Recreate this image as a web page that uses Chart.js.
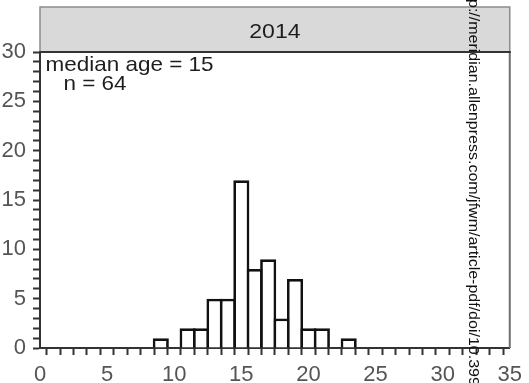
<!DOCTYPE html>
<html>
<head>
<meta charset="utf-8">
<script src="https://cdn.jsdelivr.net/npm/chart.js@4/dist/chart.umd.min.js"></script>
<style>
  html, body { margin: 0; padding: 0; background: #fff; }
  #wrap { width: 529px; height: 383px; }
</style>
</head>
<body>
<div id="wrap"><canvas id="chart" width="529" height="383"></canvas></div>
<script>
// Age-frequency histogram, 2014 sample
const ages   = [9, 11, 12, 13, 14, 15, 16, 17, 18, 19, 20, 21, 23];
const counts = [1,  2,  2,  5,  5, 17,  8,  9,  3,  7,  2,  2,  1];

const xRange = [0, 35];
const yRange = [0, 30];
const labelEvery = 5;

const panelTitle = '2014';
const notes = ['median age = 15', 'n = 64'];
const sourceLine = 'http://meridian.allenpress.com/jfwm/article-pdf/doi/10.399';

const FONT = '"Liberation Sans", Arial, sans-serif';

function stretchedText(ctx, text, x, y, align, sx) {
  ctx.save();
  ctx.translate(x, y);
  ctx.scale(sx, 1);
  ctx.textAlign = align;
  ctx.textBaseline = 'alphabetic';
  ctx.fillText(text, 0, 0);
  ctx.restore();
}

const panelDecor = {
  id: 'panelDecor',
  afterDatasetsDraw(chart) {
    const { ctx, chartArea: a } = chart;
    ctx.save();
    // right frame edge
    ctx.strokeStyle = '#6e6e6e';
    ctx.lineWidth = 2;
    ctx.beginPath();
    ctx.moveTo(a.right, a.top);
    ctx.lineTo(a.right, a.bottom);
    ctx.stroke();
    ctx.restore();
  },
  afterDraw(chart) {
    const { ctx, chartArea: a } = chart;
    ctx.save();
    // header strip
    const stripTop = 7;
    ctx.fillStyle = '#d9d9d9';
    ctx.fillRect(a.left, stripTop, a.right - a.left, a.top - stripTop);
    ctx.strokeStyle = '#8c8c8c';
    ctx.lineWidth = 1.5;
    ctx.beginPath();
    ctx.moveTo(a.left, a.top);
    ctx.lineTo(a.left, stripTop);
    ctx.lineTo(a.right, stripTop);
    ctx.lineTo(a.right, a.top);
    ctx.stroke();
    ctx.strokeStyle = '#333';
    ctx.lineWidth = 2;
    ctx.beginPath();
    ctx.moveTo(a.left - 1, a.top);
    ctx.lineTo(a.right + 1, a.top);
    ctx.stroke();

    ctx.fillStyle = '#1e1e1e';
    ctx.font = '21px ' + FONT;
    stretchedText(ctx, panelTitle, (a.left + a.right) / 2, 38, 'center', 1.1);

    // summary notes
    stretchedText(ctx, notes[0], a.left + 5.5, 71, 'left', 1.07);
    stretchedText(ctx, notes[1], a.left + 23.5, 90, 'left', 1.07);

    // vertical source line
    ctx.font = '16px ' + FONT;
    ctx.fillStyle = '#111';
    const lead = ctx.measureText('htt').width;
    ctx.translate(468.5, 0);
    ctx.rotate(Math.PI / 2);
    ctx.scale(1, 0.88);
    ctx.textAlign = 'left';
    ctx.textBaseline = 'alphabetic';
    ctx.fillText(sourceLine, -lead - 1, 0);
    ctx.restore();
  }
};

const tickLabel = v => (v % labelEvery === 0 ? String(v) : '');

const axisCommon = {
  type: 'linear',
  offset: false,
  ticks: {
    stepSize: 1,
    autoSkip: false,
    maxRotation: 0,
    callback: tickLabel,
    color: '#555',
    font: { family: FONT, size: 22 },
    padding: 6
  },
  grid: {
    display: true,
    drawOnChartArea: false,
    drawTicks: true,
    tickLength: 7,
    tickWidth: 2,
    tickColor: '#333'
  },
  border: { display: true, color: '#333', width: 2 }
};

new Chart(document.getElementById('chart'), {
  type: 'bar',
  data: {
    datasets: [{
      data: ages.map((a, i) => ({ x: a, y: counts[i] })),
      backgroundColor: '#ffffff',
      borderColor: '#111111',
      borderWidth: 2.75,
      borderSkipped: 'start',
      inflateAmount: 0,
      barPercentage: 1.2,
      categoryPercentage: 1
    }]
  },
  options: {
    responsive: false,
    animation: false,
    devicePixelRatio: 1,
    layout: { padding: { top: 52, right: 16, left: 0, bottom: 0 } },
    plugins: { legend: { display: false }, tooltip: { enabled: false } },
    scales: {
      x: Object.assign({}, axisCommon, {
        min: xRange[0], max: xRange[1],
        ticks: Object.assign({}, axisCommon.ticks, { padding: 7 }),
        afterFit: s => { s.height = 35; }
      }),
      y: Object.assign({}, axisCommon, {
        min: yRange[0], max: yRange[1],
        ticks: Object.assign({}, axisCommon.ticks, { padding: 7 }),
        afterFit: s => { s.width = 40; }
      })
    }
  },
  plugins: [panelDecor]
});
</script>
</body>
</html>
